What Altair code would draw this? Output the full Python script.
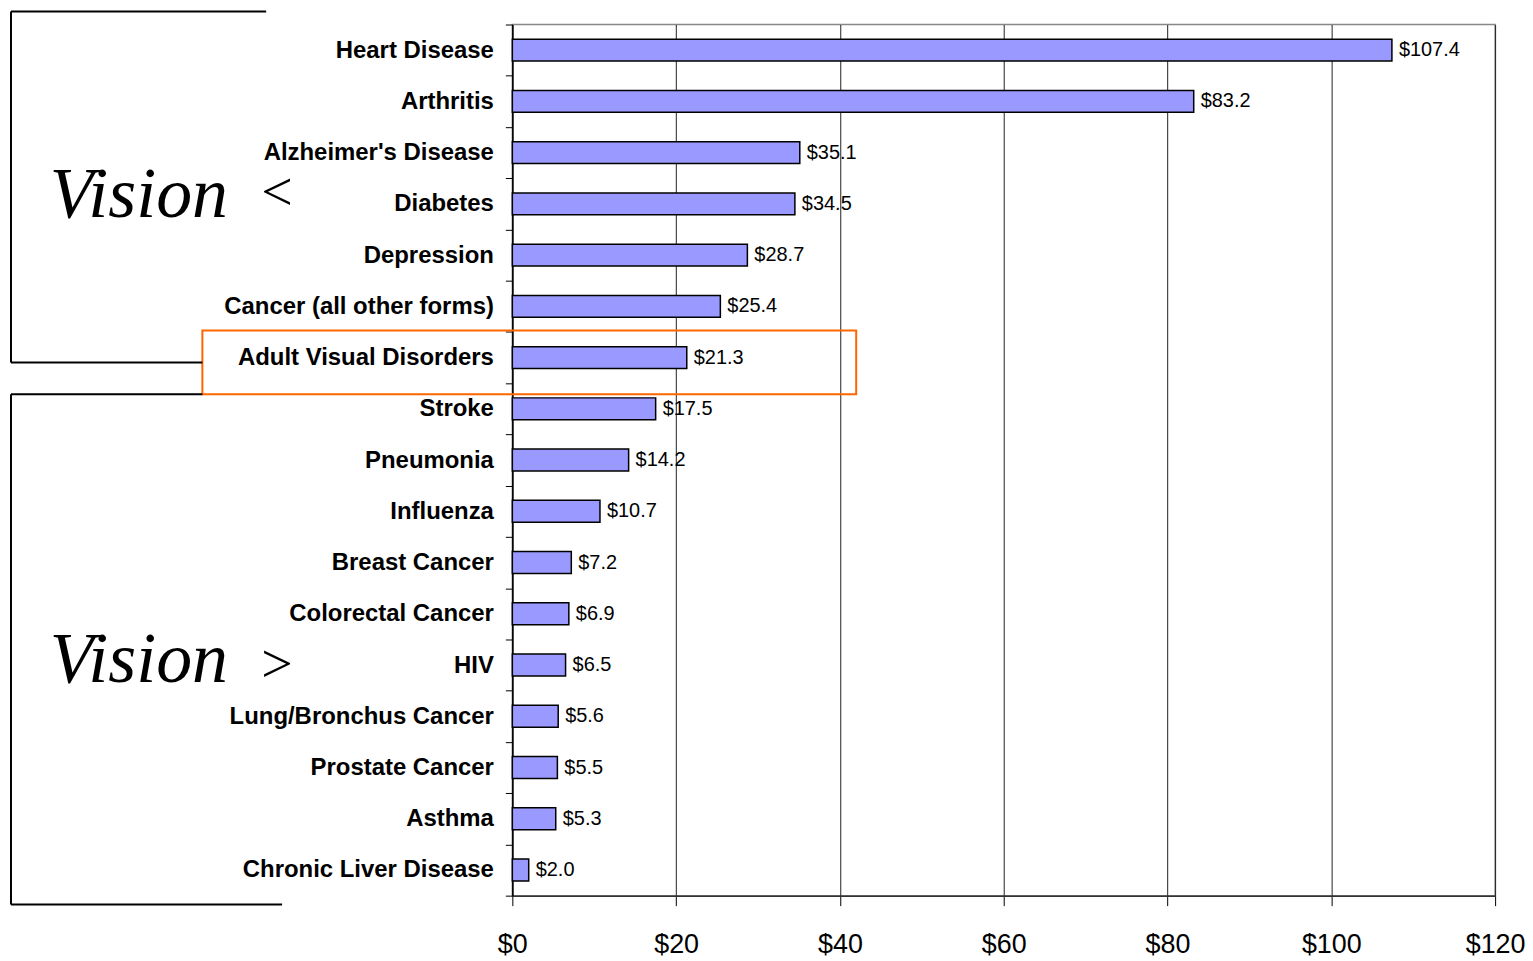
import altair as alt
import pandas as pd

categories = [
    "Heart Disease", "Arthritis", "Alzheimer's Disease", "Diabetes", "Depression",
    "Cancer (all other forms)", "Adult Visual Disorders", "Stroke", "Pneumonia",
    "Influenza", "Breast Cancer", "Colorectal Cancer", "HIV", "Lung/Bronchus Cancer",
    "Prostate Cancer", "Asthma", "Chronic Liver Disease",
]
values = [107.4, 83.2, 35.1, 34.5, 28.7, 25.4, 21.3, 17.5, 14.2, 10.7, 7.2, 6.9, 6.5, 5.6, 5.5, 5.3, 2.0]
x_ticks = [0, 20, 40, 60, 80, 100, 120]

df = pd.DataFrame({"disease": categories, "cost": values})

W, H = 986, 874
OX, OY = 514, 23  # target page position of plot origin

base = alt.Chart(df).transform_calculate(
    label="'$' + format(datum.cost, '.1f')"
)

y_enc = alt.Y(
    "disease:N", sort=categories, title=None,
    scale=alt.Scale(paddingInner=0, paddingOuter=0),
    axis=alt.Axis(
        labelFont="Liberation Sans", labelFontWeight="bold", labelFontSize=24,
        labelColor="black", labelLimit=500, labelPadding=12,
        tickBand="extent", tickSize=7, tickColor="black", tickWidth=1,
        domainColor="black", domainWidth=1.5, grid=False,
    ),
)
x_enc = alt.X(
    "cost:Q", title=None,
    scale=alt.Scale(domain=[0, 120], nice=False),
    axis=alt.Axis(
        values=x_ticks, labelExpr="'$' + datum.value",
        labelFont="Liberation Sans", labelFontSize=27, labelColor="black",
        labelFlush=False, labelOverlap=False,
        labelPadding=26, tickSize=10, tickColor="black", tickWidth=1,
        domainColor="#333333", domainWidth=1.5,
        grid=True, gridColor="#222222", gridWidth=1,
    ),
)

bars = base.mark_bar(size=22, fill="#9999FF", stroke="black", strokeWidth=1.5).encode(
    x=x_enc, y=y_enc
)
labels = base.mark_text(
    align="left", baseline="middle", dx=7, font="Liberation Sans", fontSize=20, color="black"
).encode(x="cost:Q", y=alt.Y("disease:N", sort=categories), text="label:N")

# annotation geometry (page pixels, converted to plot-relative pixels)
one = alt.Data(values=[{"k": 1}])
segments = [
    (11, 267, 10, 10),
    (11, 11, 10, 362),
    (11, 203, 362, 362),
    (11, 203, 394, 394),
    (11, 11, 394, 906),
    (11, 283, 906, 906),
]
deco = []
for x1, x2, y1, y2 in segments:
    deco.append(
        alt.Chart(one).mark_rule(color="black", strokeWidth=2).encode(
            x=alt.value(x1 - OX), x2=alt.value(x2 - OX),
            y=alt.value(y1 - OY), y2=alt.value(y2 - OY)
        )
    )
box = alt.Chart(one).mark_rect(fillOpacity=0, stroke="#FF6600", strokeWidth=2).encode(
    x=alt.value(203 - OX), x2=alt.value(859 - OX), y=alt.value(330 - OY), y2=alt.value(394 - OY)
)
vision_words = [("Vision", 50, 216), ("Vision", 50, 683)]
for t, xx, yy in vision_words:
    deco.append(
        alt.Chart(one).mark_text(
            text=t, align="left", baseline="alphabetic", font="Liberation Serif",
            fontStyle="italic", fontSize=72, color="black",
        ).encode(x=alt.value(xx - OX), y=alt.value(yy - OY))
    )
vision_signs = [("<", 262, 209), (">", 262, 683)]
for t, xx, yy in vision_signs:
    deco.append(
        alt.Chart(one).mark_text(
            text=t, align="left", baseline="alphabetic", font="Liberation Serif",
            fontSize=56, color="black",
        ).encode(x=alt.value(xx - OX), y=alt.value(yy - OY))
    )

chart = alt.layer(bars, labels, box, *deco).properties(
    width=W, height=H,
    autosize=alt.AutoSizeParams(type="none"),
    padding={"left": OX - 8, "top": OY - 8, "right": 30, "bottom": 64},
    background="white",
).configure_view(stroke="#888888", strokeWidth=1.5)

chart.save("out.html", embed_options={"renderer": "svg", "actions": False})
